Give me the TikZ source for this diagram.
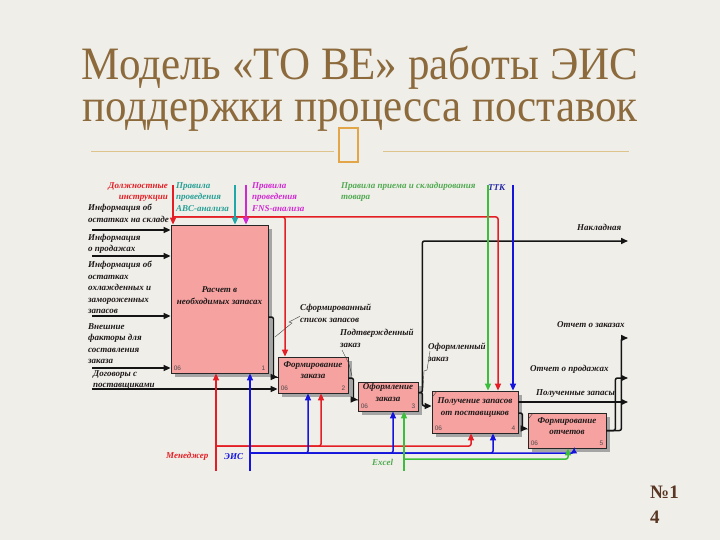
\documentclass[tikz,border=0pt]{standalone}
\usepackage{fontspec}
\setmainfont{Liberation Serif}
\setsansfont{Liberation Sans}
\usetikzlibrary{arrows.meta,calc,shadows}
\definecolor{bgc}{RGB}{239,238,233}
\definecolor{titc}{RGB}{140,106,60}
\definecolor{numc}{RGB}{90,55,35}
\definecolor{rulec}{RGB}{222,196,140}
\definecolor{glyphc}{RGB}{226,166,72}
\definecolor{boxc}{RGB}{246,162,160}
\definecolor{shadc}{RGB}{165,165,165}
\definecolor{linec}{RGB}{20,20,20}
\definecolor{redl}{RGB}{228,30,36}
\definecolor{tealc}{RGB}{30,168,170}
\definecolor{tealt}{RGB}{40,160,150}
\definecolor{magc}{RGB}{210,40,210}
\definecolor{greenc}{RGB}{60,190,60}
\definecolor{greent}{RGB}{80,170,80}
\definecolor{bluec}{RGB}{20,20,220}
\definecolor{ttkc}{RGB}{40,40,170}
\definecolor{labc}{RGB}{30,25,25}
\begin{document}
\begin{tikzpicture}[x=1pt,y=-1pt,
  lbl/.style={font=\fontsize{9}{11.5}\selectfont\bfseries\itshape, inner sep=0pt, align=left, anchor=north west, text=labc},
  proc/.style={draw=black!85, line width=0.8pt, fill=boxc, inner sep=0pt,
     drop shadow={shadow xshift=4pt, shadow yshift=-4pt, fill=shadc, opacity=1}},
  ptext/.style={font=\fontsize{9}{11.5}\selectfont\bfseries\itshape, align=center, inner sep=0pt, text=labc},
  cnr/.style={font=\sffamily\fontsize{6.5}{7}\selectfont, text=black!70, inner sep=0pt},
  tip/.style={-{Triangle[length=7pt,width=6pt]}},
  stip/.style={-{Triangle[length=5pt,width=6pt]}},
  blk/.style={line width=1.5pt, draw=linec, rounded corners=2pt},
  col/.style={line width=1.5pt, draw=#1, rounded corners=2pt},
  lead/.style={line width=0.4pt, draw=black!75}
]
\useasboundingbox (0,0) rectangle (720,540);
\fill[bgc] (0,0) rectangle (720,540);

% title
\node[text=titc, inner sep=0pt] (title) at (360,90) {\scalebox{1}[1.08]{\fontsize{43}{38.9}\selectfont\begin{tabular}{@{}c@{}}Модель «ТО ВЕ» работы ЭИС\\поддержки процесса поставок\end{tabular}}};
\draw[rulec, line width=1pt] (91,152) -- (334,152);
\draw[rulec, line width=1pt] (383,152) -- (629,152);
\draw[glyphc, line width=1.8pt] (339,128) rectangle (358,162);
\node[font=\fontsize{19}{25}\selectfont\bfseries, text=numc, align=left, inner sep=0pt, anchor=north west] (num) at (650,486) {№1\\4};

% boxes
\node[proc, minimum width=97pt, minimum height=148pt] (b1) at (219.5,299) {};
\node[proc, minimum width=70pt, minimum height=36pt] (b2) at (313,375) {};
\node[proc, minimum width=60pt, minimum height=29pt] (b3) at (388,396.5) {};
\node[proc, minimum width=86pt, minimum height=42pt] (b4) at (475,412) {};
\node[proc, minimum width=78pt, minimum height=35pt] (b5) at (567,430.5) {};

\node[ptext] at ([yshift=3.5pt]b1.center) {Расчет в\\необходимых запасах};
\node[ptext] at ([yshift=5pt]b2.center) {Формирование\\заказа};
\node[ptext] at ([yshift=4pt]b3.center) {Оформление\\заказа};
\node[ptext] at ([yshift=4.5pt]b4.center) {Получение запасов\\от поставщиков};
\node[ptext] at ([yshift=4.5pt]b5.center) {Формирование\\отчетов};

\foreach \b/\n in {b1/1,b2/2,b3/3,b4/4,b5/5}{
  \node[cnr, anchor=south west] at ([xshift=3pt,yshift=2.5pt]\b.south west) {06};
  \node[cnr, anchor=south east] at ([xshift=-3pt,yshift=2.5pt]\b.south east) {\n};
}
\draw[lead] ([xshift=1pt,yshift=-6pt]b4.north west) -- ([xshift=5pt,yshift=-1pt]b4.north west);
\draw[lead] ([xshift=1pt,yshift=-6pt]b5.north west) -- ([xshift=5pt,yshift=-1pt]b5.north west);

% labels
\node[lbl, text=redl, align=right, anchor=north east] (ldol) at (168,182) {Должностные\\инструкции};
\node[lbl, text=tealt] (labc) at (176,182) {Правила\\проведения\\ABC-анализа};
\node[lbl, text=magc] (lfns) at (252,182) {Правила\\проведения\\FNS-анализа};
\node[lbl, text=greent] (lprm) at (341,182) {Правила приема и складирования\\товара};
\node[lbl, text=ttkc] (lttk) at (488,184) {ТТК};
\node[lbl] (linf1) at (88,204) {Информация об\\остатках на складе};
\node[lbl] (linf2) at (88,234) {Информация\\о продажах};
\node[lbl] (linf3) at (88,261) {Информация об\\остатках\\охлажденных и\\замороженных\\запасов};
\node[lbl] (linf4) at (88,323) {Внешние\\факторы для\\составления\\заказа};
\node[lbl] (ldog) at (93,370) {Договоры с\\поставщиками};
\node[lbl] (lsf) at (300,304) {Сформированный\\список запасов};
\node[lbl] (lpz) at (340,329) {Подтвержденный\\заказ};
\node[lbl] (loz) at (428,343) {Оформленный\\заказ};
\node[lbl] (lnak) at (577,224) {Накладная};
\node[lbl] (lotz) at (557,321) {Отчет о заказах};
\node[lbl] (lotp) at (530,365) {Отчет о продажах};
\node[lbl] (lpol) at (536,389) {Полученные запасы};
\node[lbl, text=redl] (lmgr) at (166,452) {Менеджер};
\node[lbl, text=bluec] (leis) at (224,453) {ЭИС};
\node[lbl, text=greent] (lexc) at (372,459) {Excel};

% free ends
\coordinate (i1) at (92,230);
\coordinate (i2) at (92,256);
\coordinate (i3) at (92,316);
\coordinate (i4) at (92,368);
\coordinate (i5) at (92,389);
\coordinate (cdol) at (173,185);
\coordinate (rj) at (173,217);
\coordinate (cabc) at (235,185);
\coordinate (cfns) at (246,185);
\coordinate (cprm) at (488,185);
\coordinate (cttk) at (513,185);
\coordinate (mmgr) at (216,471);
\coordinate (mj) at (216,446);
\coordinate (meis) at (250,471);
\coordinate (ej) at (250,453);
\coordinate (mexc) at (404,471);
\coordinate (gj) at (404,459);
\coordinate (onak) at (628,241);
\coordinate (opol) at (628,402);
\coordinate (ootp) at (628,378);
\coordinate (ootz) at (628,338);

% inputs
\draw[blk,tip] (i1) -- (i1 -| b1.west);
\draw[blk,tip] (i2) -- (i2 -| b1.west);
\draw[blk,tip] (i3) -- (i3 -| b1.west);
\draw[blk,tip] (i4) -- (i4 -| b1.west);
\draw[blk,tip] (i5) -- (i5 -| b2.west);

% flows between boxes
\draw[blk,tip] ([yshift=-18pt]b1.east) -- ++(5,0) |- ([yshift=-2pt]b2.west);
\draw[blk,tip] ([yshift=-3pt]b2.east) -- ++(5,0) |- ([yshift=-3pt]b3.west);
\draw[blk,tip] ([yshift=4pt]b3.east) -- ++(4,0) |- (onak);
\draw[blk,tip] ([yshift=4pt]b3.east) -- ++(4,0) |- ([yshift=6pt]b4.west);
\draw[blk,tip] ([yshift=10pt]b4.east) -- (opol);
\draw[blk,tip] ([yshift=-1pt]b4.east) -- ++(4,0) |- ([yshift=2pt]b5.west);
\draw[blk,tip] (b5.east) -- ++(9,0) |- (ootp);
\draw[blk,tip] (b5.east) -- ++(15,0) |- (ootz);

% controls
\draw[col=redl,tip] (cdol) -- (cdol |- b1.north);
\draw[col=redl,tip] (rj) -| ([xshift=-28pt]b2.north);
\draw[col=redl,tip] (rj) -| ([xshift=23pt]b4.north);
\draw[col=tealc,tip] (cabc) -- (cabc |- b1.north);
\draw[col=magc,tip] (cfns) -- (cfns |- b1.north);
\draw[col=greenc,tip] (cprm) -- (cprm |- b4.north);
\draw[col=bluec,tip] (cttk) -- (cttk |- b4.north);

% mechanisms
\draw[col=redl,tip] (mmgr) -- (mmgr |- b1.south);
\draw[col=redl,tip] (mj) -| ([xshift=8pt]b2.south);
\draw[col=redl,tip] (mj) -| ([xshift=-4pt]b4.south);
\draw[col=bluec,tip] (meis) -- (meis |- b1.south);
\draw[col=bluec,tip] (ej) -| ([xshift=-5pt]b2.south);
\draw[col=bluec,tip] (ej) -| ([xshift=5pt]b3.south);
\draw[col=bluec,tip] (ej) -| ([xshift=18pt]b4.south);
\draw[col=bluec,stip] (ej) -| ([xshift=7pt]b5.south);
\draw[col=greenc,tip] (mexc) -- (mexc |- b3.south);
\draw[col=greenc,tip] (gj) -| ([xshift=1pt]b5.south);

% leaders
\draw[lead] (lsf.west) ++(0,3) -- (289,322) -- (292,323) -- (275,337);
\draw[lead] (342,350) -- (349,364) -- (352,376);
\draw[lead] (430,351) -- (427,370) -- (424,371) -- (423,388);
\end{tikzpicture}
\end{document}
